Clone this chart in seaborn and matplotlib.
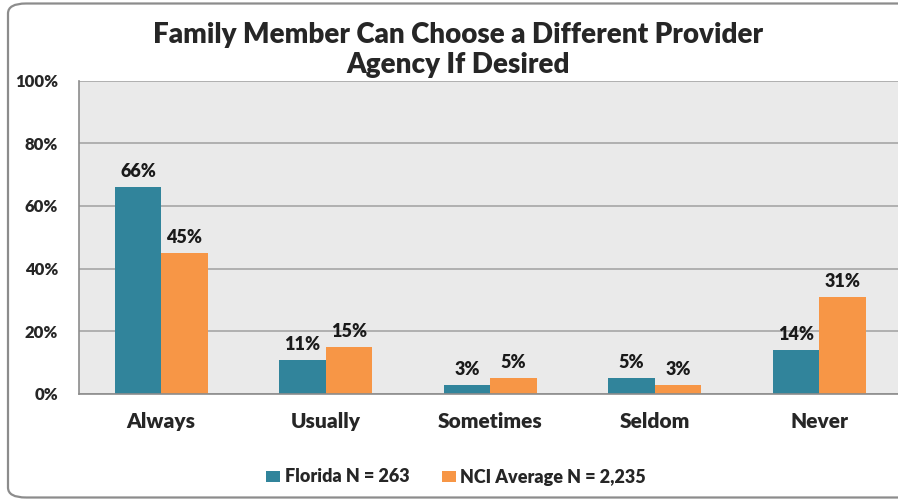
import matplotlib
matplotlib.use("Agg")
import matplotlib.pyplot as plt
from matplotlib.patches import FancyBboxPatch, Patch
from matplotlib.ticker import FixedLocator
import seaborn as sns
import pandas as pd

categories = ["Always", "Usually", "Sometimes", "Seldom", "Never"]
series_names = ["Florida N = 263", "NCI Average N = 2,235"]
florida = [66, 11, 3, 5, 14]
nci_average = [45, 15, 5, 3, 31]
colors = ["#31849B", "#F79646"]

title = "Family Member Can Choose a Different Provider\nAgency If Desired"

df = pd.DataFrame({
    "category": categories * 2,
    "series": [series_names[0]] * len(categories) + [series_names[1]] * len(categories),
    "value": florida + nci_average,
})

W = "heavy"

sns.set_theme(style="white")
plt.rcParams["font.family"] = ["Lato", "DejaVu Sans"]
plt.rcParams["font.weight"] = W

fig = plt.figure(figsize=(8.98, 4.99), dpi=100)
fig.patch.set_facecolor("white")

# rounded outer frame (runs off the right edge of the canvas)
frame = FancyBboxPatch((8 / 898, 1.5 / 499), 920 / 898, 494 / 499,
                       boxstyle="round,pad=0,rounding_size=0.02",
                       transform=fig.transFigure, facecolor="none",
                       edgecolor="#8C8C8C", linewidth=1.6, clip_on=False)
fig.patches.append(frame)

ax = fig.add_axes([79 / 898, 105 / 499, 822.5 / 898, 313.5 / 499])
ax.set_facecolor("#EAEAEA")

sns.barplot(data=df, x="category", y="value", hue="series", order=categories,
            hue_order=series_names, palette=colors, width=0.565, gap=0,
            saturation=1, edgecolor="none", linewidth=0, legend=False, ax=ax)

ax.set_xlim(-0.5, len(categories) - 0.5)
ax.set_ylim(0, 100)
ax.set_yticks([0, 20, 40, 60, 80, 100])
ax.set_yticklabels([f"{v}%" for v in [0, 20, 40, 60, 80, 100]],
                   fontsize=12, fontweight=W)
ax.yaxis.grid(True, color="#A6A6A6", linewidth=1.2)
ax.set_axisbelow(True)

ax.set_xticks(range(len(categories)))
ax.set_xticklabels(categories, fontsize=15, fontweight=W)
ax.xaxis.set_minor_locator(FixedLocator([i + 0.5 for i in range(-1, len(categories))]))
ax.tick_params(axis="x", which="major", length=0, pad=13)
ax.tick_params(axis="x", which="minor", length=6, width=1, color="#8C8C8C", direction="out")
ax.tick_params(axis="y", length=5, width=1, color="#8C8C8C", direction="out", pad=10)
ax.set_xlabel("")
ax.set_ylabel("")

for side in ["top", "right"]:
    ax.spines[side].set_visible(False)
for side in ["left", "bottom"]:
    ax.spines[side].set_color("#8C8C8C")
    ax.spines[side].set_linewidth(1.2)

for container in ax.containers:
    ax.bar_label(container, labels=[f"{v:.0f}%" for v in container.datavalues],
                 padding=5, fontsize=13, fontweight=W, color="#1A1A1A")

fig.text(458 / 898, 1 - 50 / 499, title, ha="center", va="center",
         fontsize=20, fontweight=W, linespacing=1.15)

handles = [Patch(facecolor=c, edgecolor="none") for c in colors]
fig.legend(handles, series_names, loc="center", bbox_to_anchor=(456 / 898, 1 - 477 / 499),
           ncol=2, frameon=False, prop={"size": 13, "weight": W},
           handlelength=0.78, handleheight=0.55, handletextpad=0.25, columnspacing=1.8)

fig.savefig("out.png", dpi=100)
